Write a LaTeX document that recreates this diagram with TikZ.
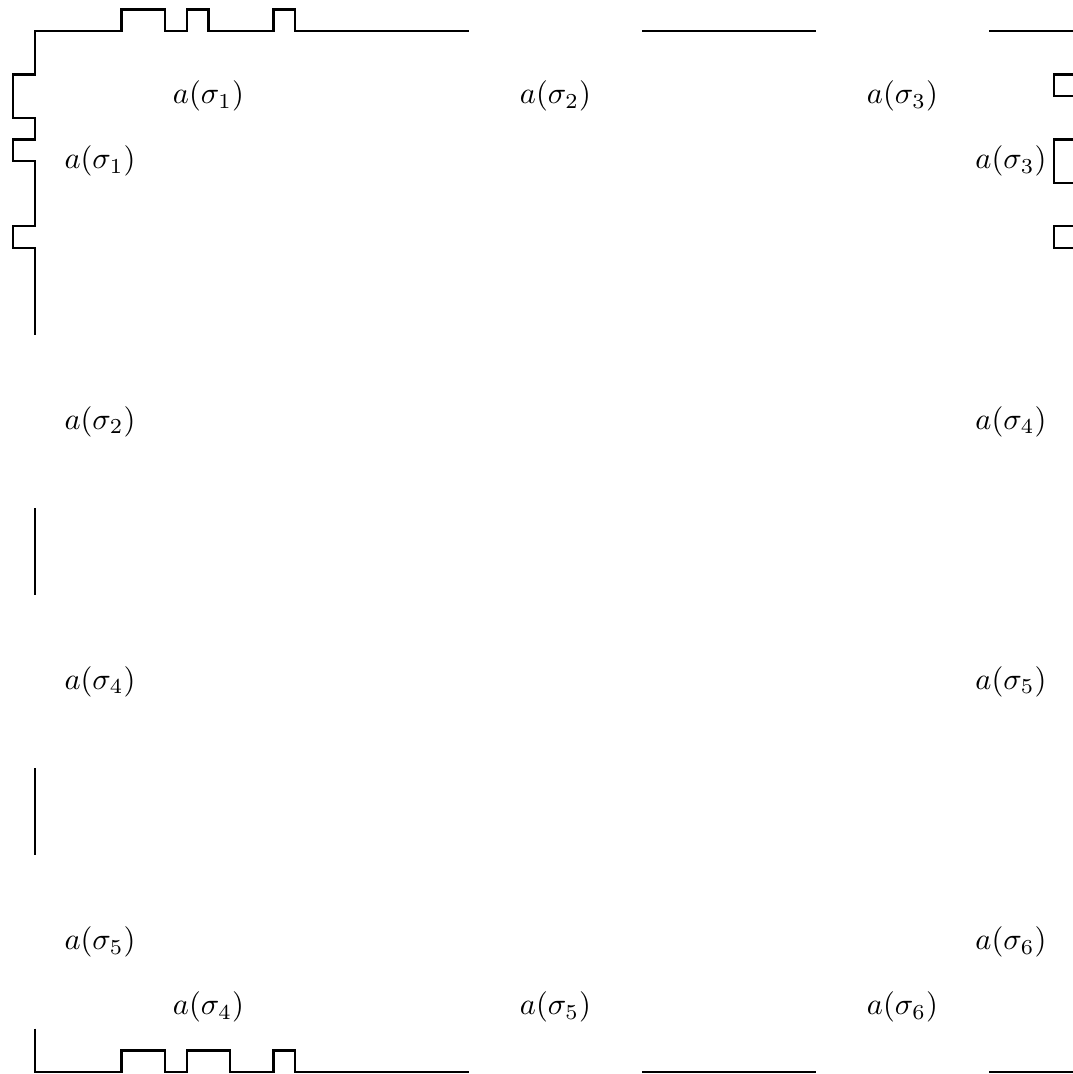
\documentclass[tikz,border=0pt]{standalone}
\begin{document}
\begin{tikzpicture}[x={(0.25cm,0cm)},y={(0cm,-0.25cm)},every node/.style={inner sep=0pt, outer sep=0pt},edge/.style={color=black,thick}]
\useasboundingbox (-1.61,-1.43) rectangle (47.86,48.09);
% top and left side
\draw[edge] (20,0) -- (12,0) -- (12,-1) -- (11,-1) -- (11,0) -- (8,0) -- (8,-1) -- (7,-1) -- (7,0) -- (6,0) -- (6,-1) -- (4,-1) -- (4,0) -- (0,0) -- (0,2) -- (-1,2) -- (-1,4) -- (0,4) -- (0,5) -- (-1,5) -- (-1,6) -- (0,6) -- (0,9) -- (-1,9) -- (-1,10) -- (0,10) -- (0,14);
\draw[edge] (28,0) -- (36,0);
\draw[edge] (44,0) -- (48,0);
\draw[edge] (0,22) -- (0,26);
\draw[edge] (0,34) -- (0,38);
% right side
\draw[edge] (48,2) -- (47,2) -- (47,3) -- (48,3);
\draw[edge] (48,5) -- (47,5) -- (47,7) -- (48,7);
\draw[edge] (48,9) -- (47,9) -- (47,10) -- (48,10);
% bottom
\draw[edge] (0,46) -- (0,48) -- (4,48) -- (4,47) -- (6,47) -- (6,48) -- (7,48) -- (7,47) -- (9,47) -- (9,48) -- (11,48) -- (11,47) -- (12,47) -- (12,48) -- (20,48);
\draw[edge] (28,48) -- (36,48);
\draw[edge] (44,48) -- (48,48);
% labels
\node (t1) at (8,3) {$a(\sigma_1)$};
\node (t2) at (24,3) {$a(\sigma_2)$};
\node (t3) at (40,3) {$a(\sigma_3)$};
\node (l1) at (3,6) {$a(\sigma_1)$};
\node (l2) at (3,18) {$a(\sigma_2)$};
\node (l3) at (3,30) {$a(\sigma_4)$};
\node (l4) at (3,42) {$a(\sigma_5)$};
\node (r1) at (45,6) {$a(\sigma_3)$};
\node (r2) at (45,18) {$a(\sigma_4)$};
\node (r3) at (45,30) {$a(\sigma_5)$};
\node (r4) at (45,42) {$a(\sigma_6)$};
\node (b1) at (8,45) {$a(\sigma_4)$};
\node (b2) at (24,45) {$a(\sigma_5)$};
\node (b3) at (40,45) {$a(\sigma_6)$};
\end{tikzpicture}
\end{document}
